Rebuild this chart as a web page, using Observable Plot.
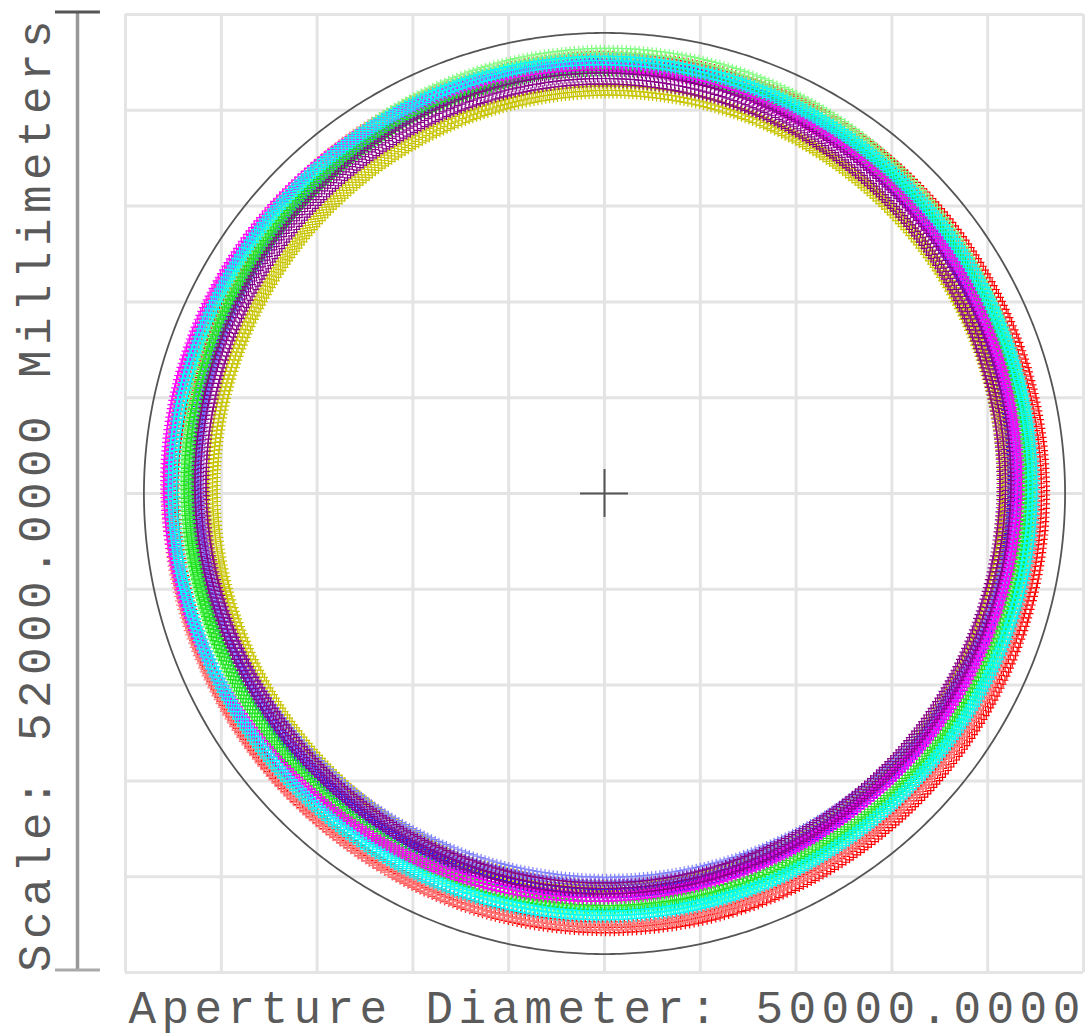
<!DOCTYPE html>
<html><head><meta charset="utf-8">
<script src="https://cdn.jsdelivr.net/npm/d3@7"></script>
<script src="https://cdn.jsdelivr.net/npm/@observablehq/plot@0.6"></script>
<style>body{margin:0;background:#fff}</style>
</head><body><div id="chart"></div>
<script>
// ---- data (millimetres) ----
const gridTicks = [-26000,-20800,-15600,-10400,-5200,0,5200,10400,15600,20800,26000];
const apertureDiameter = 50000;
const scaleLength = 52000;
const scaleLabel = "Scale: 52000.0000 Millimeters";
const apertureLabel = "Aperture Diameter: 50000.0000";
// one ring of ray footprints per field / colour (drawn in this order)
const seriesColor   = ["#ff0000","#ff8080","#c8c400","#2020ff","#8080ff","#80ff80","#20e020","#ff00ff","#00ffff","#880088"];
const ringRadiusX   = [23585, 23500, 21522, 22282, 22255, 22905, 22743, 23069, 23340, 21848];
const ringRadiusY   = [23560, 23560, 21658, 22472, 22119, 23313, 22717, 22553, 23205, 21983];
const ringCenterX   = [  136,  -163,   244,     0,   109,   163,   163,  -651,  -109,   -81];
const ringCenterY   = [    0,    54,   217,   760,  1058,   624,   353,   624,   299,   543];
const ringHalfWidth = [  280,   200,   250,   230,   230,   230,   240,   210,   230,   300];
const raysPerLayer = 620;
const layerOffsets = [-1, 0, 1];
const crossHalf = 1300;

// ---- build ray table from ring parameters ----
const rays = [];
seriesColor.forEach((c, i) => {
  layerOffsets.forEach((k, li) => {
    const dr = k * ringHalfWidth[i];
    for (let j = 0; j < raysPerLayer; j++) {
      const a = 2 * Math.PI * (j + li / layerOffsets.length) / raysPerLayer;
      rays.push({x: ringCenterX[i] + (ringRadiusX[i] + dr) * Math.cos(a),
                 y: ringCenterY[i] + (ringRadiusY[i] + dr) * Math.sin(a), c});
    }
  });
});
const apR = apertureDiameter / 2;
const aperture = d3.range(0, 721).map(t => {
  const a = t / 720 * 2 * Math.PI;
  return {x: apR * Math.cos(a), y: apR * Math.sin(a)};
});
const half = scaleLength / 2;
const scaleBarX = -28605, scaleTop = half + 130, scaleBottom = -half + 130;

const chart = Plot.plot({
  width: 1089, height: 1036,
  marginLeft: 125, marginRight: 6, marginTop: 14, marginBottom: 64,
  x: {domain: [-half, half], axis: null},
  y: {domain: [-half, half], axis: null},
  color: {type: "identity"},
  style: {background: "#fff"},
  marks: [
    Plot.gridX(gridTicks, {stroke: "#e4e4e4", strokeOpacity: 1, strokeWidth: 3}),
    Plot.gridY(gridTicks, {stroke: "#e4e4e4", strokeOpacity: 1, strokeWidth: 3}),
    Plot.line(aperture, {x: "x", y: "y", stroke: "#555", strokeWidth: 1.8}),
    Plot.dot(rays, {x: "x", y: "y", stroke: "c", symbol: "plus", r: 2.4, strokeWidth: 1.2}),
    Plot.ruleX([0], {y1: -crossHalf, y2: crossHalf, stroke: "#555", strokeWidth: 2}),
    Plot.ruleY([0], {x1: -crossHalf, x2: crossHalf, stroke: "#555", strokeWidth: 2}),
    Plot.ruleX([scaleBarX], {y1: scaleBottom, y2: scaleTop, stroke: "#999", strokeWidth: 3.5}),
    Plot.ruleY([scaleTop], {x1: -29800, x2: -27360, stroke: "#555", strokeWidth: 3}),
    Plot.ruleY([scaleBottom], {x1: -29800, x2: -27360, stroke: "#aaa", strokeWidth: 3}),
    Plot.text([apertureLabel], {text: d => d, frameAnchor: "bottom-left", textAnchor: "start", lineAnchor: "bottom",
      dx: 3, dy: 50, fontSize: 46, fontFamily: "Liberation Mono, monospace", fill: "#5a5a5a"}),
    Plot.text([scaleLabel], {text: d => d, frameAnchor: "left", rotate: -90, textAnchor: "middle", lineAnchor: "bottom",
      dx: -76, fontSize: 46, fontFamily: "Liberation Mono, monospace", fill: "#5a5a5a"})
  ]
});
d3.select(chart).selectAll("text").attr("letter-spacing", "5.4px");
document.getElementById("chart").append(chart);
</script>
</body></html>
